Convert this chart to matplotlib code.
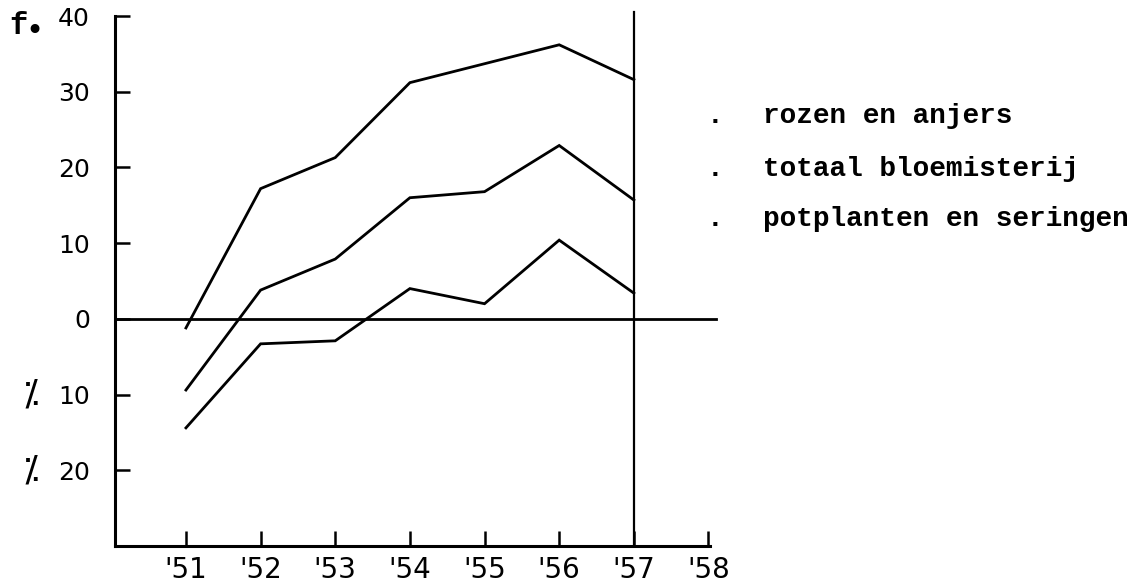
"""Bloemisterij: procentuele verandering t.o.v. basisjaar, 1951-1957."""
import matplotlib
matplotlib.use("Agg")
import matplotlib.pyplot as plt

years = [1951, 1952, 1953, 1954, 1955, 1956, 1957]
rozen_anjers = [-1.2, 17.2, 21.3, 31.2, 33.7, 36.2, 31.6]
totaal_bloemisterij = [-9.4, 3.8, 7.9, 16.0, 16.8, 22.9, 15.7]
potplanten_seringen = [-14.4, -3.3, -2.9, 4.0, 2.0, 10.4, 3.4]

series_labels = ["rozen en anjers", "totaal bloemisterij", "potplanten en seringen"]

x_ticks = [1951, 1952, 1953, 1954, 1955, 1956, 1957, 1958]
x_ticklabels = ["'51", "'52", "'53", "'54", "'55", "'56", "'57", "'58"]
y_ticks = [-20, -10, 0, 10, 20, 30, 40]
y_ticklabels = ["20", "10", "0", "10", "20", "30", "40"]

LW = 2.0
TYPE_FONT = "Liberation Mono"

fig = plt.figure(figsize=(11.4, 5.85), dpi=100)
ax = fig.add_axes([0.1009, 0.0667, 0.5219, 0.9059])

for vals in (rozen_anjers, totaal_bloemisterij, potplanten_seringen):
    ax.plot(years, vals, color="black", lw=LW, solid_joinstyle="miter")

# zero line and the vertical marker at '57
ax.plot([1950.05, 1958.1], [0, 0], color="black", lw=LW, clip_on=False)
ax.plot([1957, 1957], [-30, 40.5], color="black", lw=1.6, clip_on=False)

ax.set_xlim(1950.05, 1958.02)
ax.set_ylim(-30, 40)
for side in ("top", "right"):
    ax.spines[side].set_visible(False)
for side in ("left", "bottom"):
    ax.spines[side].set_linewidth(2.2)

ax.set_xticks(x_ticks)
ax.set_xticklabels(x_ticklabels, fontsize=20)
ax.set_yticks(y_ticks)
ax.set_yticklabels(y_ticklabels, fontsize=18, fontweight="medium")
ax.tick_params(axis="both", direction="in", length=11, width=1.8)
ax.tick_params(axis="x", pad=7)
ax.tick_params(axis="y", pad=18)

# prefixes: f. (positive) and the old commercial minus sign
ytr = ax.get_yaxis_transform()
ax.text(-0.178, 37.6, "f", transform=ytr, fontsize=22, family=TYPE_FONT,
        fontweight="bold", ha="left", va="baseline")
ax.text(-0.135, 37.9, "\u2022", transform=ytr, fontsize=22,
        family=["DejaVu Sans"], ha="center", va="center")
for v in (-10, -20):
    ax.text(-0.155, v, "\u2052", transform=ytr, fontsize=26,
            family=["DejaVu Sans"], ha="left", va="center")

# typed legend
legend_y = [25.9, 18.9, 12.2]
for ly, lab in zip(legend_y, series_labels):
    ax.text(1958.09, ly, ".", fontsize=20, family=TYPE_FONT, fontweight="bold",
            ha="center", va="baseline", clip_on=False)
    ax.text(1958.73, ly, lab, fontsize=20, family=TYPE_FONT, fontweight="bold",
            ha="left", va="baseline", clip_on=False)

fig.savefig("out.png", dpi=100)
